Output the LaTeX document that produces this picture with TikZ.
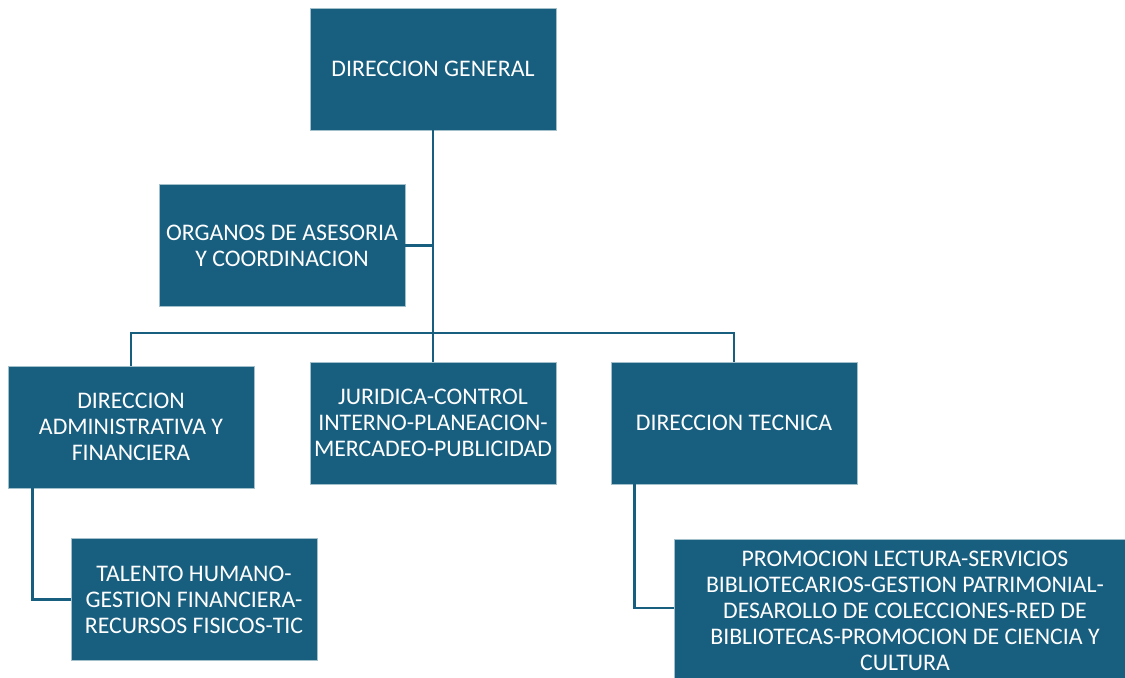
\documentclass[tikz,border=0pt]{standalone}
\usepackage{fontspec}
\setmainfont{Carlito}
\usetikzlibrary{calc}
\definecolor{boxblue}{RGB}{23,94,127}

\begin{document}
\begin{tikzpicture}[x=0.5pt, y=-0.5pt,
                unit/.style={
                draw=boxblue!40!white,
                line width=0.4pt,
                fill=boxblue,
                text=white,
                align=center,
                inner sep=0pt,
                minimum width=123pt,
                minimum height=61pt,
                font=\fontsize{11.9}{13}\selectfont
                },
                link/.style={
                draw=boxblue,
                line width=1.2pt
                }]

    \useasboundingbox (0,0) rectangle (1125,677);

    \node[unit] (dg) at (433,69) {DIRECCION GENERAL};
    \node[unit] (org) at (282,245.5) {ORGANOS DE ASESORIA\\Y COORDINACION};
    \node[unit] (adm) at (131,427) {DIRECCION\\ADMINISTRATIVA Y\\FINANCIERA};
    \node[unit] (jur) at (433,423) {JURIDICA-CONTROL\\INTERNO-PLANEACION-\\MERCADEO-PUBLICIDAD};
    \node[unit] (tec) at (734,423) {DIRECCION TECNICA};
    \node[unit] (tal) at (194,599.5) {TALENTO HUMANO-\\GESTION FINANCIERA-\\RECURSOS FISICOS-TIC};
    \node[unit, minimum width=231pt, minimum height=72pt] (pro) at (905,611)
        {PROMOCION LECTURA-SERVICIOS\\BIBLIOTECARIOS-GESTION PATRIMONIAL-\\DESAROLLO DE COLECCIONES-RED DE\\BIBLIOTECAS-PROMOCION DE CIENCIA Y\\CULTURA};

    \coordinate (bar) at (433,333);

    \draw[link] (dg.south) -- (jur.north);
    \draw[link] (org.east) -- (org.east -| dg.south);
    \draw[link] (adm.north) |- (bar);
    \draw[link] (tec.north) |- (bar);

    \draw[link] ($(adm.south west)+(25,0)$) |- (tal.west);
    \draw[link] ($(tec.south west)+(24,0)$) |- ($(pro.west)+(0,-3)$);

\end{tikzpicture}
\end{document}
